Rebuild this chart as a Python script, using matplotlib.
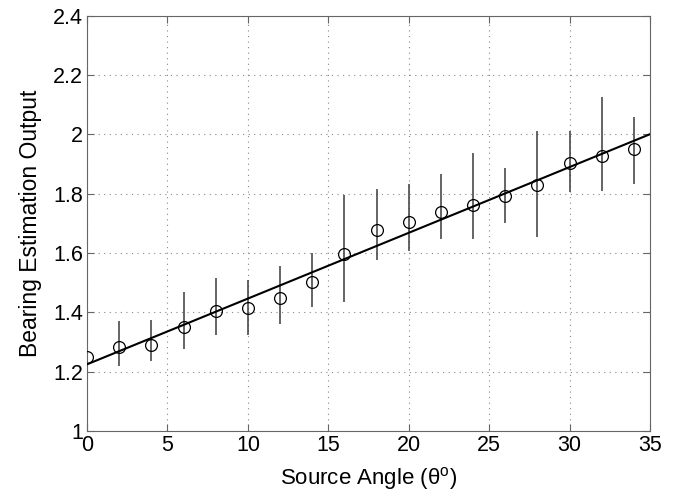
import numpy as np
import matplotlib.pyplot as plt

# source angle (degrees) and estimated bearing output
angles = [0, 2, 4, 6, 8, 10, 12, 14, 16, 18, 20, 22, 24, 26, 28, 30, 32, 34]
means = [1.250, 1.282, 1.291, 1.350, 1.404, 1.416, 1.448, 1.502, 1.596, 1.678,
         1.704, 1.738, 1.761, 1.792, 1.831, 1.905, 1.928, 1.952]
upper = [1.262, 1.371, 1.374, 1.469, 1.515, 1.509, 1.558, 1.601, 1.796, 1.816,
         1.834, 1.866, 1.937, 1.886, 2.012, 2.012, 2.126, 2.060]
lower = [1.238, 1.219, 1.236, 1.277, 1.325, 1.323, 1.361, 1.417, 1.436, 1.577,
         1.606, 1.648, 1.647, 1.703, 1.655, 1.805, 1.808, 1.832]

# fitted line end points
fit_x = [0, 35]
fit_y = [1.225, 2.001]

plt.rcParams['font.family'] = ['Liberation Sans', 'DejaVu Sans']
plt.rcParams['mathtext.fontset'] = 'custom'
plt.rcParams['mathtext.rm'] = 'Liberation Sans'

fig = plt.figure(figsize=(6.75, 4.96), dpi=100)
ax = fig.add_axes([0.129, 0.131, 0.834, 0.837])

means = np.array(means)
yerr = [means - np.array(lower), np.array(upper) - means]
ax.errorbar(angles, means, yerr=yerr, fmt='none', ecolor='#3a3a3a',
            elinewidth=1.1, capsize=0, zorder=2)
ax.plot(angles, means, 'o', mfc='none', mec='black', ms=8.5, mew=0.9, zorder=3)
ax.plot(fit_x, fit_y, color='black', lw=1.5, zorder=4)

ax.set_xlim(0, 35)
ax.set_ylim(1, 2.4)
ax.set_xticks(np.arange(0, 36, 5))
ax.set_yticks([1, 1.2, 1.4, 1.6, 1.8, 2, 2.2, 2.4])
ax.set_yticklabels(['1', '1.2', '1.4', '1.6', '1.8', '2', '2.2', '2.4'])

ax.grid(True, linestyle=(0, (1, 4)), color='#888888', lw=0.8)
ax.tick_params(direction='in', top=True, right=True, labelsize=15.5,
               length=5, color='#666666', pad=3)
for s in ax.spines.values():
    s.set_color('#666666')

ax.set_xlabel('Source Angle (θ$^{\\mathrm{o}}$)', fontsize=16, labelpad=6)
ax.set_ylabel('Bearing Estimation Output', fontsize=16.5, labelpad=8)

fig.savefig('out.png', dpi=100)
